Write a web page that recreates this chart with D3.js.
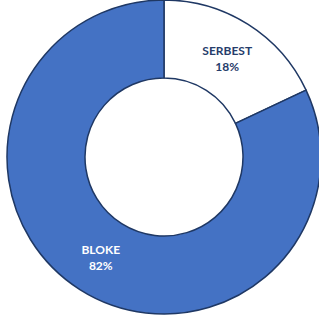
<!DOCTYPE html>
<html>
<head>
<meta charset="utf-8">
<script src="https://cdn.jsdelivr.net/npm/d3@7"></script>
<style>
  body { margin: 0; background: #fff; }
  svg { display: block; }
</style>
</head>
<body>
<svg id="chart" width="319" height="322"></svg>
<script>
// slice data
var categories = ["SERBEST", "BLOKE"]
var values = [18, 82]
var fills = ["#ffffff", "#4472C4"]
var labelColours = ["#263D6B", "#ffffff"]

var svg = d3.select("#chart")
var cx = 164, cy = 157
var outerR = 157, innerR = 79

var data = categories.map(function(c, i) {
  return { name: c, value: values[i], fill: fills[i], labelColour: labelColours[i] }
})

var pie = d3.pie().sort(null).value(function(d) { return d.value })
var arc = d3.arc().innerRadius(innerR).outerRadius(outerR)

var g = svg.append("g").attr("transform", "translate(" + cx + "," + cy + ")")

var arcs = pie(data)

g.selectAll(".slice")
  .data(arcs)
  .enter().append("path")
    .attr("class", "slice")
    .attr("d", arc)
    .attr("fill", function(d) { return d.data.fill })
    .attr("stroke", "#1F3864")
    .attr("stroke-width", 1.5)
    .attr("stroke-linejoin", "round")

var labels = g.selectAll(".label")
  .data(arcs)
  .enter().append("text")
    .attr("class", "label")
    .attr("transform", function(d) {
      var c = arc.centroid(d)
      return "translate(" + c[0] + "," + c[1] + ")"
    })
    .attr("text-anchor", "middle")
    .style("font-family", "Lato, 'Open Sans', sans-serif")
    .style("font-weight", "bold")
    .style("font-size", "12px")
    .attr("fill", function(d) { return d.data.labelColour })

labels.append("tspan").attr("x", 0).attr("dy", "-0.2em").text(function(d) { return d.data.name })
labels.append("tspan").attr("x", 0).attr("dy", "1.35em").text(function(d) { return d.data.value + "%" })
</script>
</body>
</html>
